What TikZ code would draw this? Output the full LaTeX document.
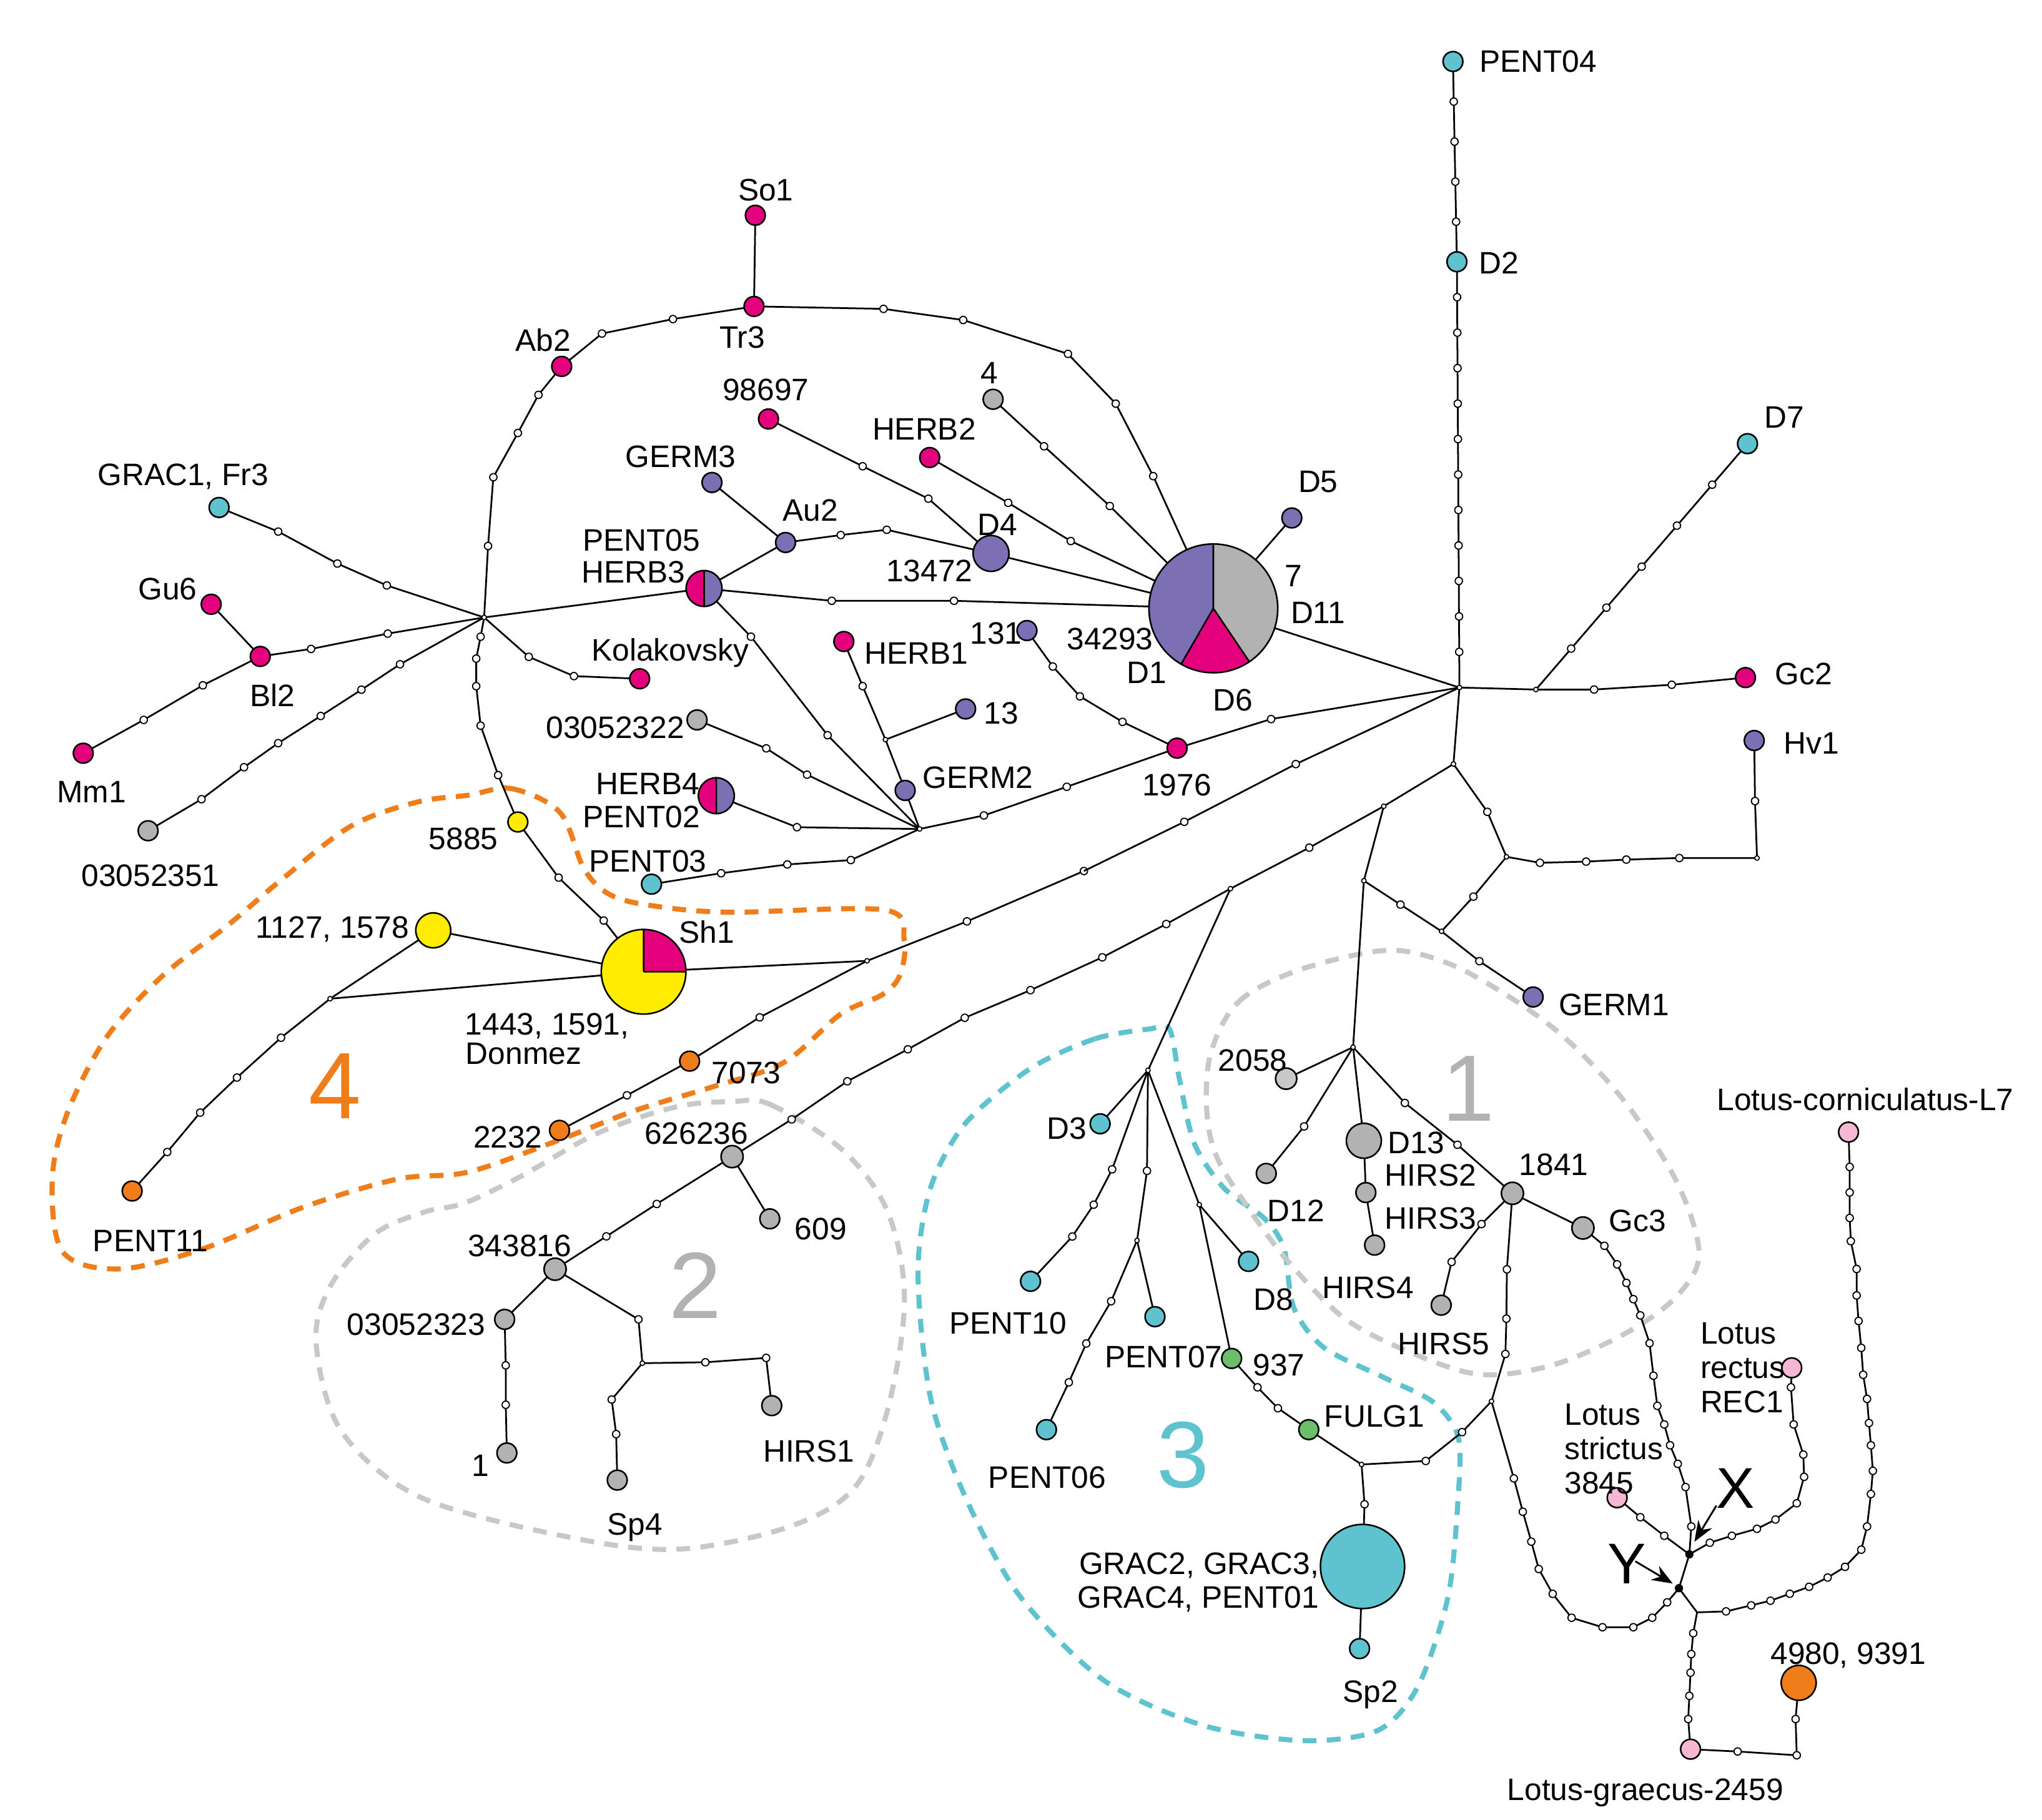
\documentclass[tikz,border=0pt]{standalone}
\usepackage{fontspec}
\setmainfont{Liberation Sans}
\usetikzlibrary{decorations.markings,arrows.meta}
\definecolor{mag}{HTML}{E5007D}
\definecolor{pur}{HTML}{7D6FB3}
\definecolor{cya}{HTML}{5FC3CF}
\definecolor{gry}{HTML}{B2B2B2}
\definecolor{lgry}{HTML}{C8C8C8}
\definecolor{yel}{HTML}{FFEC00}
\definecolor{ora}{HTML}{EE7D1A}
\definecolor{grn}{HTML}{6BBE6A}
\definecolor{pnk}{HTML}{F5B7D2}
\def\fs{\fontsize{13.5}{15}\selectfont}
\newcommand{\hap}[3]{\filldraw[fill=#2,draw=black,line width=0.7pt] (#1) circle (#3pt);}
\tikzset{
 e/.style={line width=0.75pt},
 dt/.style={circle,draw,fill=white,inner sep=0pt,minimum size=3.2pt,line width=0.5pt},
 jn/.style={circle,draw,fill=white,inner sep=0pt,minimum size=2pt,line width=0.45pt},
 lb/.style={font=\fs,inner sep=0pt},
 mk/.style={postaction={decorate,decoration={markings,mark=between positions #1 and 0.999 step #1 with {\node[dt]{};}}}},
 dsh/.style={line width=2.2pt,dash pattern=on 6pt off 4.5pt},
 Z1/.style={shift={(1097.3,834.9)},xscale=0.2951,yscale=0.3545},
 Z2/.style={shift={(906.5,501.0)},scale=0.3043},
 Z3/.style={shift={(0,310.1)},scale=0.3347},
 Z4/.style={shift={(357.8,119.3)},scale=0.3347},
 Z5/.style={shift={(620.2,214.7)},scale=0.3043},
 Z6/.style={shift={(357.8,477.1)},scale=0.3347},
 Z7/.style={shift={(47.7,691.8)},xscale=0.426,yscale=0.3347},
 Z8/.style={shift={(691.8,763.4)},scale=0.3803},
}
\begin{document}
\begin{tikzpicture}[x=0.02cm,y=-0.02cm]
\useasboundingbox (0,0) rectangle (1560,1390.6);
% ---------- coordinates
\coordinate (PENT04) at (1110,47); \coordinate (D2) at (1113,200); \coordinate (D7) at (1335,339);
\begin{scope}[Z3]
\coordinate (GRAC1) at (500,232); \coordinate (Gu6) at (482,453); \coordinate (Bl2) at (594,572);
\coordinate (Mm1) at (190,793); \coordinate (s51) at (338,970); \coordinate (J1) at (1105,483);
\coordinate (Kol) at (1460,623); \coordinate (p5885) at (1182,950);
\end{scope}
\begin{scope}[Z4]
\coordinate (So1) at (655,135); \coordinate (Tr3) at (652,343); \coordinate (Ab2) at (213,480);
\coordinate (n98) at (685,600); \coordinate (HERB2) at (1053,688); \coordinate (GERM3) at (556,745);
\coordinate (Au2) at (724,882); \coordinate (D4) at (1193,907); \coordinate (P05) at (538,987);
\coordinate (HERB1) at (857,1108); \coordinate (n131) at (1275,1083); \coordinate (jH) at (952,1332);
\coordinate (n13) at (1135,1262); \coordinate (GERM2) at (997,1448); \coordinate (s22) at (522,1287);
\coordinate (H4) at (566,1460);
\end{scope}
\begin{scope}[Z5]
\coordinate (pie) at (1008,822); \coordinate (n4) at (455,297); \coordinate (D5) at (1205,595);
\coordinate (n1976) at (917,1173);
\end{scope}
\begin{scope}[Z6]
\coordinate (J2) at (1030,467); \coordinate (P03) at (418,593); \coordinate (Sh1) at (400,793);
\coordinate (J4) at (910,768); \coordinate (n7073) at (505,997); \coordinate (n2232) at (208,1155);
\coordinate (n626) at (602,1215); \coordinate (n609) at (688,1357); \coordinate (n343) at (198,1472);
\coordinate (D3) at (1442,1140);
\end{scope}
\begin{scope}[Z2]
\coordinate (H1) at (685,80); \coordinate (A) at (670,272); \coordinate (B) at (495,378);
\coordinate (C) at (803,505); \coordinate (D) at (110,585); \coordinate (E) at (445,565);
\coordinate (F) at (640,692); \coordinate (J7) at (418,983); \coordinate (Hv1) at (1425,213);
\coordinate (HvC) at (1432,508); \coordinate (GERM1) at (870,857); \coordinate (GcJ) at (877,85);
\coordinate (Gc2) at (1403,55); \coordinate (n2058) at (250,1062); \coordinate (D12) at (200,1300);
\coordinate (D13) at (445,1218); \coordinate (HIRS3) at (450,1348); \coordinate (HIRS4) at (472,1480);
\coordinate (n1841) at (818,1350); \coordinate (Gc3) at (995,1437);
\end{scope}
\begin{scope}[Z8]
\coordinate (J6) at (487,143); \coordinate (PENT10) at (251,567); \coordinate (jP) at (465,485);
\coordinate (PENT07) at (501,638); \coordinate (PENT06) at (283,865); \coordinate (jD8) at (590,413);
\coordinate (D8) at (689,527); \coordinate (n937) at (655,722); \coordinate (FULG1) at (810,865);
\coordinate (jG) at (916,935); \coordinate (GRAC2) at (918,1140); \coordinate (Sp2) at (912,1305);
\coordinate (K) at (1177,808); \coordinate (HIRS5) at (1076,615);
\end{scope}
\begin{scope}[Z7]
\coordinate (n1127) at (665,57); \coordinate (J3) at (480,213); \coordinate (PENT11) at (125,652);
\coordinate (n03) at (793,945); \coordinate (n1) at (797,1250); \coordinate (jS) at (1040,1045);
\coordinate (Sp4) at (995,1312); \coordinate (HIRS1) at (1272,1142);
\end{scope}
\begin{scope}[Z1]
\coordinate (X) at (655,995); \coordinate (Y) at (628,1068); \coordinate (JY) at (675,1120);
\coordinate (strict) at (468,873); \coordinate (REC1) at (920,593); \coordinate (L7) at (1067,85);
\coordinate (graec) at (658,1415); \coordinate (n4980) at (938,1272); \coordinate (gcor) at (933,1428);
\end{scope}
% ---------- dashed outlines
\draw[dsh,ora] plot[smooth cycle,tension=0.55] coordinates {(357.8,607.6) (391,602.6) (428,621) (446.5,664.5) (468,684.6) (505,693) (558.6,697) (675.8,695.3) (690.8,718) (687.5,745) (674,760) (642,775) (598.8,811.8) (545.2,830.2) (485,848.6) (424.7,872) (357.8,895.5) (303.3,901) (230.9,922.7) (154.2,954.5) (90.3,969.6) (47.7,956.2) (40,900) (52,849) (81.8,792) (124.4,745.4) (174,707) (214,673) (267.8,631.4) (318,613)};
\draw[dsh,lgry] plot[smooth cycle,tension=0.55] coordinates {(558.9,841.7) (588.7,844) (644,879) (678.2,926.1) (691,993) (678.2,1076.7) (652.6,1137) (601.5,1167) (516.3,1183.8) (431.1,1173.8) (320.3,1143.6) (260.7,1093.4) (241.5,1026.5) (252.2,983) (286.3,942.8) (324.6,926) (354.4,919.4) (397,899.3) (456.7,865.8) (516.3,845.8)};
\draw[dsh,cya] plot[smooth cycle,tension=0.5] coordinates {(878.2,786.2) (836.3,793.8) (786.9,816.6) (737.4,858.5) (710.8,907.9) (701.3,972.6) (710.8,1067.6) (737.4,1143.7) (779.3,1219.8) (843.9,1284.4) (920,1318.6) (996,1330) (1053,1322) (1083.5,1288) (1106.3,1219.8) (1114,1143.7) (1114,1098) (1095,1071.4) (1057,1052.4) (1011.3,1029.6) (988.4,999.2) (980.8,953.6) (965.6,930.7) (935.2,907.9) (912.4,873.7) (901,824.3) (893.4,786.2)};
\draw[dsh,lgry] plot[smooth cycle,tension=0.55] coordinates {(924.8,805.3) (946,765.7) (991.7,741.4) (1058.6,726.2) (1104.3,735.3) (1150,759.7) (1195.6,793.1) (1241.2,841.8) (1280.8,902.7) (1298,957.4) (1281.3,990) (1243.2,1018) (1186.2,1043) (1129.2,1050) (1072.1,1031) (1026.5,1006.8) (985,965) (955,925) (930,885) (922,850)};
% ---------- edges
\begin{scope}[e]
\draw[mk=0.2] (PENT04) -- (D2);
\draw[mk=0.0833] (D2) -- (H1);
\draw[mk=0.1667] (D7) -- (GcJ);
\begin{scope}[Z2]
\draw (H1) -- (GcJ) -- (1023,85) node[dt]{} -- (1218,73) node[dt]{} -- (Gc2);
\draw (H1) -- (A) -- (B);
\draw (A) -- (755,392) node[dt]{} -- (C) -- (887,520) node[dt]{} -- (1003,517) node[dt]{} -- (1104,512) node[dt]{} -- (1237,508) node[dt]{} -- (HvC) -- (1427,365) node[dt]{} -- (Hv1);
\draw (B) -- (308,482) node[dt]{} -- (D);
\draw (B) -- (E) -- (J7);
\draw (E) -- (537,625) node[dt]{} -- (F);
\draw (C) -- (720,605) node[dt]{} -- (F) -- (735,767) node[dt]{} -- (GERM1);
\draw (J7) -- (n2058);
\draw (J7) -- (295,1182) node[dt]{} -- (D12);
\draw (J7) -- (D13) -- (HIRS3) -- (HIRS4);
\draw (J7) -- (548,1123) node[dt]{} -- (680,1228) node[dt]{} -- (n1841) -- (Gc3);
\draw (H1) -- (pie);
\end{scope}
\begin{scope}[Z6]
\draw (P03) -- (577,568) node[dt]{} -- (728,548) node[dt]{} -- (873,538) node[dt]{} -- (J2);
\draw (Sh1) -- (J4);
\draw (n2232) -- (362,1075) node[dt]{} -- (n7073) -- (665,897) node[dt]{} -- (J4) -- (1138,678) node[dt]{} -- (1405,563) coordinate (q1) node[dt]{};
\draw (n343) -- (315,1397) node[dt]{} -- (430,1323) node[dt]{} -- (n626) -- (738,1130) node[dt]{} -- (865,1043) node[dt]{} -- (1003,970) node[dt]{} -- (1133,898) node[dt]{} -- (1283,835) node[dt]{} -- (1447,760) node[dt]{} -- (1593,684) node[dt]{} -- (D);
\draw (n626) -- (n609);
\draw (D) -- (J6) -- (D3);
\end{scope}
\begin{scope}[Z5]
\draw (q1) -- (935,1358) node[dt]{} -- (1215,1213) node[dt]{} -- (H1);
\draw (n1976) -- (1153,1100) node[dt]{} -- (H1);
\draw (n4) -- (583,415) node[dt]{} -- (748,565) node[dt]{} -- (pie);
\draw (HERB2) -- (493,557) node[dt]{} -- (650,653) node[dt]{} -- (pie);
\draw (D4) -- (pie); \draw (D5) -- (pie);
\draw (P05) -- (50,803) node[dt]{} -- (357,803) node[dt]{} -- (pie);
\draw (n131) -- (605,968) node[dt]{} -- (673,1043) node[dt]{} -- (780,1107) node[dt]{} -- (n1976);
\draw (J2) -- (432,1342) node[dt]{} -- (640,1270) node[dt]{} -- (n1976);
\draw (Tr3) -- (180,70) node[dt]{} -- (380,98) node[dt]{} -- (643,183) node[dt]{} -- (763,308) node[dt]{} -- (857,490) node[dt]{} -- (pie);
\end{scope}
\begin{scope}[Z4]
\draw (So1) -- (Tr3) -- (467,372) node[dt]{} -- (305,405) node[dt]{} -- (Ab2) -- (160,545) node[dt]{} -- (113,632) node[dt]{} -- (57,733) node[dt]{} -- (45,890) node[dt]{} -- (J1);
\draw (n98) -- (900,708) node[dt]{} -- (1050,782) node[dt]{} -- (D4);
\draw (GERM3) -- (Au2) -- (850,865) node[dt]{} -- (955,853) node[dt]{} -- (D4);
\draw (J1) -- (P05) -- (Au2);
\draw (P05) -- (645,1097) node[dt]{} -- (820,1322) node[dt]{} -- (J2);
\draw (HERB1) -- (900,1210) node[dt]{} -- (jH) -- (GERM2) -- (J2);
\draw (jH) -- (n13);
\draw (s22) -- (680,1352) node[dt]{} -- (773,1412) node[dt]{} -- (J2);
\draw (H4) -- (750,1532) node[dt]{} -- (J2);
\end{scope}
\begin{scope}[Z3]
\draw (J1) -- (1207,573) node[dt]{} -- (1310,617) node[dt]{} -- (Kol);
\draw (GRAC1) -- (635,287) node[dt]{} -- (770,360) node[dt]{} -- (883,410) node[dt]{} -- (J1);
\draw (Gu6) -- (Bl2) -- (710,555) node[dt]{} -- (885,520) node[dt]{} -- (J1);
\draw (Mm1) -- (328,717) node[dt]{} -- (463,638) node[dt]{} -- (Bl2);
\draw (s51) -- (460,898) node[dt]{} -- (557,825) node[dt]{} -- (635,770) node[dt]{} -- (732,708) node[dt]{} -- (825,648) node[dt]{} -- (913,590) node[dt]{} -- (J1);
\draw (J1) -- (1097,527) node[dt]{} -- (1087,577) node[dt]{} -- (1087,640) node[dt]{} -- (1097,730) node[dt]{} -- (1137,843) node[dt]{} -- (p5885) -- (1275,1077) node[dt]{} -- (1378,1175) node[dt]{} -- (Sh1);
\end{scope}
\begin{scope}[Z7]
\draw (n1127) -- (Sh1); \draw (J3) -- (Sh1); \draw (J3) -- (n1127);
\draw (J3) -- (392,302) node[dt]{} -- (313,393) node[dt]{} -- (247,473) node[dt]{} -- (188,563) node[dt]{} -- (PENT11);
\draw (n343) -- (n03) -- (795,1050) node[dt]{} -- (795,1140) node[dt]{} -- (n1);
\draw (n343) -- (1033,945) node[dt]{} -- (jS) -- (985,1128) node[dt]{} -- (993,1207) node[dt]{} -- (Sp4);
\draw (jS) -- (1153,1043) node[dt]{} -- (1262,1033) node[dt]{} -- (HIRS1);
\end{scope}
\begin{scope}[Z8]
\draw (J6) -- (415,342) node[dt]{} -- (378,413) node[dt]{} -- (335,477) node[dt]{} -- (PENT10);
\draw (J6) -- (485,345) node[dt]{} -- (jP) -- (PENT07);
\draw (jP) -- (413,607) node[dt]{} -- (363,692) node[dt]{} -- (328,770) node[dt]{} -- (PENT06);
\draw (J6) -- (jD8) -- (D8);
\draw (jD8) -- (n937) -- (707,780) node[dt]{} -- (748,822) node[dt]{} -- (FULG1) -- (jG) -- (922,1015) node[dt]{} -- (GRAC2) -- (Sp2);
\draw (jG) -- (1045,928) node[dt]{} -- (1118,870) node[dt]{} -- (K) -- (1205,713) node[dt]{} -- (1207,642) node[dt]{} -- (1208,543) node[dt]{} -- (n1841);
\draw (n1841) -- (1157,452) node[dt]{} -- (1097,528) node[dt]{} -- (HIRS5);
\draw (K) -- (1222,963) node[dt]{} -- (1240,1030) node[dt]{} -- (1257,1090) node[dt]{} -- (1272,1145) node[dt]{} -- (1300,1195) node[dt]{} -- (1338,1243) node[dt]{} -- (1400,1262) node[dt]{} -- (1462,1262) node[dt]{} -- (1500,1243) node[dt]{} -- (1530,1212) node[dt]{} -- (Y);
\end{scope}
\begin{scope}[Z1]
\draw (Gc3) -- (435,330) node[dt]{} -- (468,370) node[dt]{} -- (492,410) node[dt]{} -- (510,445) node[dt]{} -- (528,480) node[dt]{} -- (552,540) node[dt]{} -- (562,610) node[dt]{} -- (572,675) node[dt]{} -- (590,715) node[dt]{} -- (605,760) node[dt]{} -- (625,800) node[dt]{} -- (645,850) node[dt]{} -- (660,935) node[dt]{} -- (X);
\draw (strict) -- (528,915) node[dt]{} -- (590,955) node[dt]{} -- (X);
\draw (REC1) -- (918,635) node[dt]{} -- (925,715) node[dt]{} -- (950,780) node[dt]{} -- (952,828) node[dt]{} -- (933,885) node[dt]{} -- (878,920) node[dt]{} -- (830,940) node[dt]{} -- (765,955) node[dt]{} -- (708,970) node[dt]{} -- (X);
\draw (L7) -- (1070,160) node[dt]{} -- (1070,215) node[dt]{} -- (1070,270) node[dt]{} -- (1073,320) node[dt]{} -- (1088,380) node[dt]{} -- (1088,437) node[dt]{} -- (1093,492) node[dt]{} -- (1100,550) node[dt]{} -- (1105,608) node[dt]{} -- (1115,660) node[dt]{} -- (1120,712) node[dt]{} -- (1125,760) node[dt]{} -- (1130,815) node[dt]{} -- (1125,865) node[dt]{} -- (1115,935) node[dt]{} -- (1100,985) node[dt]{} -- (1058,1022) node[dt]{} -- (1013,1045) node[dt]{} -- (965,1065) node[dt]{} -- (915,1080) node[dt]{} -- (865,1095) node[dt]{} -- (815,1105) node[dt]{} -- (750,1118) node[dt]{} -- (JY);
\draw (X) -- (Y) -- (JY);
\draw (JY) -- (665,1165) node[dt]{} -- (660,1210) node[dt]{} -- (658,1250) node[dt]{} -- (655,1300) node[dt]{} -- (652,1350) node[dt]{} -- (graec);
\draw (graec) -- (780,1420) node[dt]{} -- (gcor) node[dt]{} -- (930,1350) node[dt]{} -- (n4980);
\draw[-{Stealth[length=9pt,width=7pt]},line width=0.8pt] (725,890) coordinate (xa) -- (668,968) coordinate (xb);
\draw[-{Stealth[length=9pt,width=7pt]},line width=0.8pt] (515,1010) coordinate (ya) -- (612,1058) coordinate (yb);
\end{scope}
\end{scope}
% junction dots
\foreach \j in {H1,J1,J2,J4,J6,J7,A,B,C,D,E,F,GcJ,jH,jP,jG,K,J3,jS,HvC,jD8} \node[jn] at (\j) {};
\fill (X) circle (1.8pt); \fill (Y) circle (1.8pt);
% ---------- haplotypes
\foreach \n in {So1,Tr3,Ab2,n98,HERB2,Gu6,Bl2,Mm1,Kol,HERB1,n1976,Gc2} {\hap{\n}{mag}{4.3}}
\foreach \n in {GERM3,Au2,D5,n131,n13,GERM2,Hv1,GERM1} {\hap{\n}{pur}{4.3}}
\hap{D4}{pur}{7.8}
\foreach \n in {PENT04,D2,D7,GRAC1,P03,D3,PENT10,PENT07,D8,PENT06,Sp2} {\hap{\n}{cya}{4.3}}
\hap{GRAC2}{cya}{18.3}
\foreach \n in {n4,s22,s51,n609,n03,n1,Sp4,HIRS1,D12,HIRS3,HIRS4,HIRS5} {\hap{\n}{gry}{4.3}}
\foreach \n in {n626,n343,n1841,Gc3} {\hap{\n}{gry}{4.8}}
\hap{n2058}{lgry}{4.6}
\hap{D13}{gry}{7.6}
\hap{p5885}{yel}{4.3} \hap{n1127}{yel}{7.6}
\foreach \n in {n7073,n2232,PENT11} {\hap{\n}{ora}{4.3}}
\hap{n4980}{ora}{7.6}
\hap{n937}{grn}{4.3} \hap{FULG1}{grn}{4.3}
\foreach \n in {L7,REC1,strict,graec} {\hap{\n}{pnk}{4.3}}
% pies
\fill[gry] (pie) -- ++(90:28pt) arc (90:-56:28pt) -- cycle;
\fill[mag] (pie) -- ++(-56:28pt) arc (-56:-120:28pt) -- cycle;
\fill[pur] (pie) -- ++(-120:28pt) arc (-120:-270:28pt) -- cycle;
\draw[line width=0.7pt] (pie) circle (28pt) (pie) -- ++(90:28pt) (pie) -- ++(-56:28pt) (pie) -- ++(-120:28pt);
\fill[yel] (Sh1) -- ++(90:18.4pt) arc (90:360:18.4pt) -- cycle;
\fill[mag] (Sh1) -- ++(0:18.4pt) arc (0:90:18.4pt) -- cycle;
\draw[line width=0.7pt] (Sh1) circle (18.4pt) (Sh1) -- ++(90:18.4pt) (Sh1) -- ++(0:18.4pt);
\foreach \p in {P05,H4} {
 \fill[mag] (\p) -- ++(90:7.8pt) arc (90:270:7.8pt) -- cycle;
 \fill[pur] (\p) -- ++(-90:7.8pt) arc (-90:90:7.8pt) -- cycle;
 \draw[line width=0.7pt] (\p) circle (7.8pt) (\p) ++(0,-7.8pt) -- ++(0,15.6pt);
}
% ---------- labels
\node[lb] at (1175,47) {PENT04}; \node[lb] at (1145,201) {D2}; \node[lb] at (1363,319) {D7};
\node[lb] at (1378,515) {Gc2}; \node[lb] at (1384,568) {Hv1}; \node[lb] at (1233,768) {GERM1};
\node[lb] at (585,145) {So1}; \node[lb] at (567,258) {Tr3}; \node[lb] at (415,260) {Ab2};
\node[lb] at (585,298) {98697}; \node[lb] at (756,285) {4}; \node[lb] at (706,328) {HERB2};
\node[lb] at (520,349) {GERM3}; \node[lb] at (619,390) {Au2}; \node[lb] at (762,401) {D4};
\node[lb] at (710,436) {13472}; \node[lb] at (490,413) {PENT05}; \node[lb] at (484,437) {HERB3};
\node[lb] at (1007,368) {D5}; \node[lb] at (988,440) {7}; \node[lb] at (1007,468) {D11};
\node[lb] at (848,488) {34293}; \node[lb] at (876,514) {D1}; \node[lb] at (942,535) {D6};
\node[lb] at (761,484) {131}; \node[lb] at (700,499) {HERB1}; \node[lb] at (765,545) {13};
\node[lb] at (747,594) {GERM2}; \node[lb] at (899,600) {1976}; \node[lb] at (512,499) {Kolakovsky};
\node[lb] at (470,556) {03052322}; \node[lb] at (495,599) {HERB4}; \node[lb] at (490,624) {PENT02};
\node[lb] at (495,658) {PENT03}; \node[lb] at (354,641) {5885}; \node[lb] at (254,710) {1127, 1578};
\node[lb] at (540,712) {Sh1}; \node[lb] at (418,784) {1443, 1591,}; \node[lb] at (400,805) {Donmez};
\node[lb] at (570,820) {7073}; \node[lb] at (388,869) {2232}; \node[lb] at (532,866) {626236};
\node[lb] at (627,939) {609}; \node[lb] at (397,952) {343816}; \node[lb] at (318,1012) {03052323};
\node[lb] at (367,1120) {1}; \node[lb] at (485,1167) {Sp4}; \node[lb] at (618,1109) {HIRS1};
\node[lb] at (115,948) {PENT11}; \node[lb] at (140,364) {GRAC1, Fr3}; \node[lb] at (128,450) {Gu6};
\node[lb] at (208,531) {Bl2}; \node[lb] at (70,605) {Mm1}; \node[lb] at (115,669) {03052351};
\node[lb] at (815,862) {D3}; \node[lb] at (770,1011) {PENT10}; \node[lb] at (889,1037) {PENT07};
\node[lb] at (977,1043) {937}; \node[lb] at (973,993) {D8}; \node[lb] at (800,1129) {PENT06};
\node[lb] at (1050,1082) {FULG1};
\node[lb,anchor=east] at (1008,1196) {GRAC2, GRAC3,}; \node[lb,anchor=east] at (1008,1222) {GRAC4, PENT01};
\node[lb] at (1047,1295) {Sp2}; \node[lb] at (957,810) {2058}; \node[lb] at (990,925) {D12};
\node[lb] at (1082,873) {D13}; \node[lb] at (1093,898) {HIRS2}; \node[lb] at (1093,931) {HIRS3};
\node[lb] at (1045,984) {HIRS4}; \node[lb] at (1103,1027) {HIRS5}; \node[lb] at (1187,890) {1841};
\node[lb] at (1251,933) {Gc3}; \node[lb] at (1425,840) {Lotus-corniculatus-L7};
\node[lb,align=left,anchor=east] at (1364,1045) {Lotus\\rectus\\REC1};
\node[lb,align=left,anchor=west] at (1195,1107) {Lotus\\strictus\\3845};
\node[lb] at (1412,1265) {4980, 9391}; \node[lb] at (1257,1370) {Lotus-graecus-2459};
\node[font=\fontsize{25}{25}\selectfont,inner sep=0pt] at (1326,1137) {X};
\node[font=\fontsize{25}{25}\selectfont,inner sep=0pt] at (1243,1195) {Y};
\node[font=\fontsize{41}{41}\selectfont,inner sep=0pt,text=gry] at (1122,832) {1};
\node[font=\fontsize{41}{41}\selectfont,inner sep=0pt,text=gry] at (531,982) {2};
\node[font=\fontsize{41}{41}\selectfont,inner sep=0pt,text=cya] at (904,1112) {3};
\node[font=\fontsize{41}{41}\selectfont,inner sep=0pt,text=ora] at (256,830) {4};
\end{tikzpicture}
\end{document}
